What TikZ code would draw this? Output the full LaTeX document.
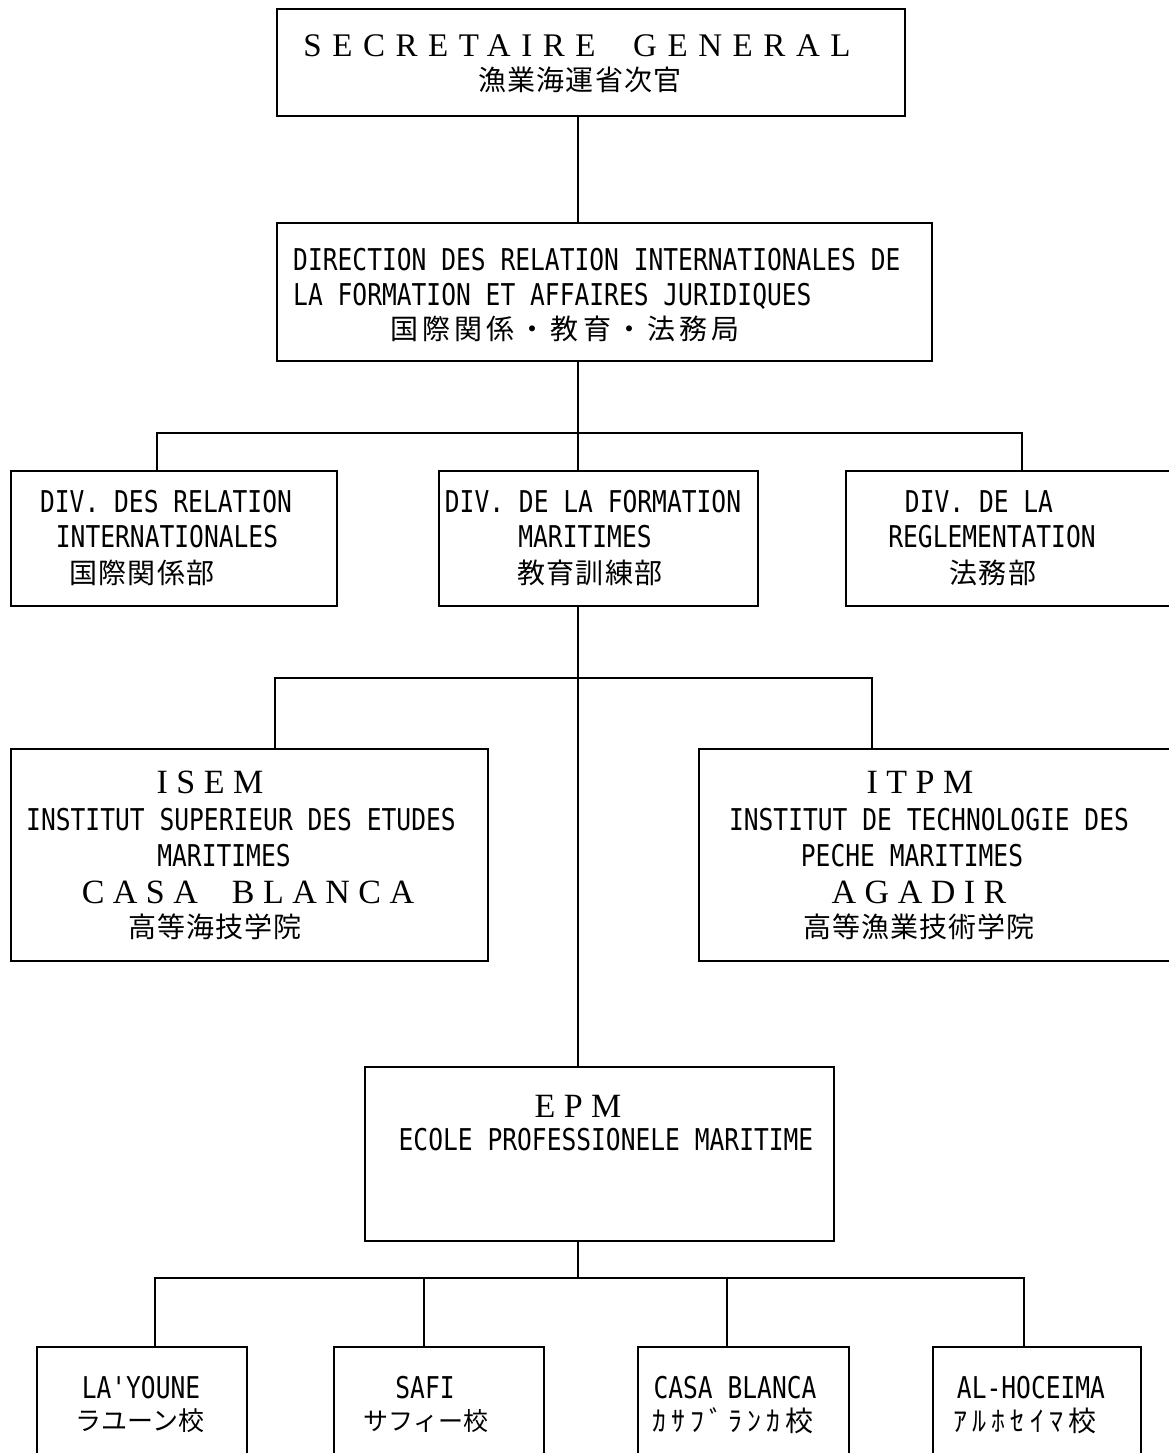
\documentclass[tikz,border=0pt]{standalone}
\usepackage{fontspec}
\newfontfamily\monofnt[FakeStretch=0.82]{DejaVu Sans Mono}
\newfontfamily\serifsp[LetterSpace=25]{Liberation Serif}
\newfontfamily\sgfnt[LetterSpace=32]{Liberation Serif}
\newfontfamily\cjk[LetterSpace=4]{Noto Sans CJK JP}
\newfontfamily\cjkwide[LetterSpace=15]{Noto Sans CJK JP}
\newfontfamily\cjkhalf[LetterSpace=18]{Noto Sans CJK JP}
\newfontfamily\cjkplain{Noto Sans CJK JP}
\tikzset{
  box/.style={draw, line width=1.6pt, rectangle, inner sep=0pt, anchor=north west},
  conn/.style={line width=1.4pt},
  mt/.style={font=\monofnt\fontsize{30}{36}\selectfont, inner sep=0pt, anchor=base},
  st/.style={font=\serifsp\fontsize{34}{40}\selectfont, inner sep=0pt, anchor=base},
  jt/.style={font=\cjk\fontsize{28}{32}\selectfont, inner sep=0pt, anchor=center},
}
\begin{document}
\begin{tikzpicture}[x=1pt,y=-1pt]
\useasboundingbox (0,0) rectangle (1169,1453);
\clip (0,0) rectangle (1169,1453);
\fill[white] (0,0) rectangle (1169,1453);

% boxes
\node[box, minimum width=628pt, minimum height=107pt] (sg) at (276,8) {};
\node[box, minimum width=655pt, minimum height=138pt] (dir) at (276,222) {};
\node[box, minimum width=326pt, minimum height=135pt] (divl) at (10,470) {};
\node[box, minimum width=319pt, minimum height=135pt] (divm) at (438,470) {};
\node[box, minimum width=330pt, minimum height=135pt] (divr) at (845,470) {};
\node[box, minimum width=477pt, minimum height=212pt] (isem) at (10,748) {};
\node[box, minimum width=477pt, minimum height=212pt] (itpm) at (698,748) {};
\node[box, minimum width=469pt, minimum height=174pt] (epm) at (364,1066) {};
\node[box, minimum width=210pt, minimum height=120pt] (lay) at (36,1346) {};
\node[box, minimum width=210pt, minimum height=120pt] (safi) at (333,1346) {};
\node[box, minimum width=211pt, minimum height=120pt] (casa) at (637,1346) {};
\node[box, minimum width=208pt, minimum height=120pt] (alh) at (932,1346) {};

% junction coordinates
\coordinate (j1) at (578,433);
\coordinate (dl) at (157,433);
\coordinate (dr) at (1022,433);
\coordinate (j2) at (578,678);
\coordinate (il) at (275,678);
\coordinate (ir) at (872,678);
\coordinate (j3) at (578,1278);
\coordinate (b1) at (155,1278);
\coordinate (b2) at (424,1278);
\coordinate (b3) at (727,1278);
\coordinate (b4) at (1024,1278);

% connectors
\draw[conn] (sg.south -| j1) -- (dir.north -| j1);
\draw[conn] (dir.south -| j1) -- (j1);
\draw[conn] (divl.north -| dl) -- (dl) -- (dr) -- (divr.north -| dr);
\draw[conn] (j1) -- (divm.north -| j1);
\draw[conn] (divm.south -| j1) -- (epm.north -| j1);
\draw[conn] (isem.north -| il) -- (il) -- (ir) -- (itpm.north -| ir);
\draw[conn] (epm.south -| j3) -- (j3);
\draw[conn] (lay.north -| b1) -- (b1) -- (b4) -- (alh.north -| b4);
\draw[conn] (b2) -- (safi.north -| b2);
\draw[conn] (b3) -- (casa.north -| b3);

% texts: secretaire general
\node[inner sep=0pt, anchor=base, font=\sgfnt\fontsize{33}{40}\selectfont] (sgt1) at (577,57) {SECRETAIRE\ \ GENERAL};
\node[jt] (sgt2) at (580,80) {漁業海運省次官};

% direction
\node[mt, anchor=base west] (dt1) at (293,270) {DIRECTION DES RELATION INTERNATIONALES DE};
\node[mt, anchor=base west] (dt2) at (293,305) {LA FORMATION ET AFFAIRES JURIDIQUES};
\node[jt, font=\cjkwide\fontsize{28}{32}\selectfont] (dt3) at (565,329) {国際関係・教育・法務局};

% divisions
\node[mt] (lt1) at (166,512) {DIV. DES RELATION};
\node[mt] (lt2) at (167,547) {INTERNATIONALES};
\node[jt] (lt3) at (142,573) {国際関係部};

\node[mt] (mt1) at (593,512) {DIV. DE LA FORMATION};
\node[mt] (mt2) at (585,547) {MARITIMES};
\node[jt] (mt3) at (590,573) {教育訓練部};

\node[mt] (rt1) at (979,512) {DIV. DE LA};
\node[mt] (rt2) at (992,547) {REGLEMENTATION};
\node[jt] (rt3) at (993,573) {法務部};

% ISEM
\node[st] (it1) at (210,793) {ISEM};
\node[mt] (it2) at (241,830) {INSTITUT SUPERIEUR DES ETUDES};
\node[mt] (it3) at (224,866) {MARITIMES};
\node[st] (it4) at (248,903) {CASA\ \ BLANCA};
\node[jt] (it5) at (215,927) {高等海技学院};

% ITPM
\node[st] (pt1) at (920,793) {ITPM};
\node[mt] (pt2) at (929,830) {INSTITUT DE TECHNOLOGIE DES};
\node[mt] (pt3) at (912,866) {PECHE MARITIMES};
\node[st] (pt4) at (919,903) {AGADIR};
\node[jt] (pt5) at (919,927) {高等漁業技術学院};

% EPM
\node[st] (et1) at (578,1117) {EPM};
\node[mt] (et2) at (606,1150) {ECOLE PROFESSIONELE MARITIME};

% schools
\node[mt] (s1a) at (141,1398) {LA'YOUNE};
\node[jt, font=\cjkplain\fontsize{26}{30}\selectfont] (s1b) at (140,1421) {ラユーン校};
\node[mt] (s2a) at (425,1398) {SAFI};
\node[jt, font=\cjkplain\fontsize{25}{30}\selectfont] (s2b) at (426,1421) {サフィー校};
\node[mt] (s3a) at (735,1398) {CASA BLANCA};
\node[jt, font=\cjkhalf\fontsize{28}{32}\selectfont] (s3b) at (733,1421) {ｶｻﾌﾞﾗﾝｶ校};
\node[mt] (s4a) at (1031,1398) {AL-HOCEIMA};
\node[jt, font=\cjkhalf\fontsize{28}{32}\selectfont] (s4b) at (1025,1421) {ｱﾙﾎｾｲﾏ校};
\end{tikzpicture}
\end{document}
